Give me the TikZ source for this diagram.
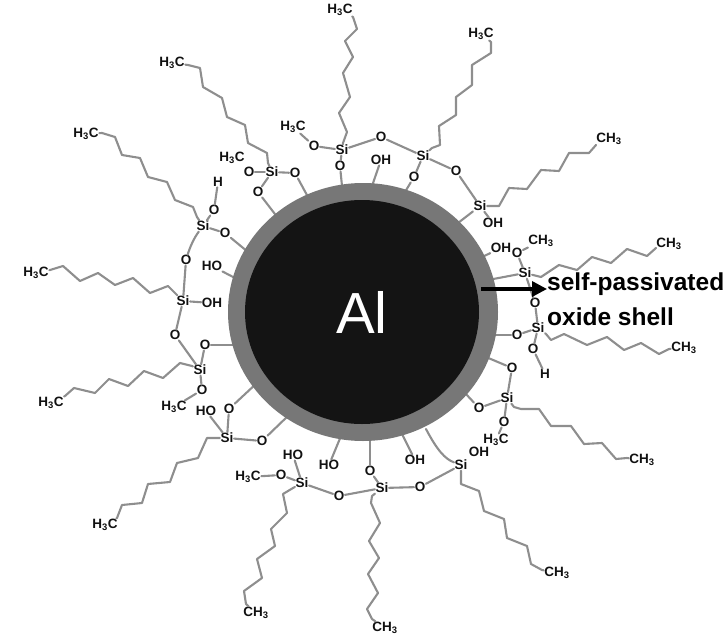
\documentclass[tikz,border=0pt]{standalone}
\usepackage{fontspec}
\setmainfont{Liberation Sans}
\usetikzlibrary{arrows.meta,shapes.geometric}
\definecolor{bondgray}{HTML}{8E8E8E}
\definecolor{shellgray}{HTML}{777777}
\definecolor{coreblack}{HTML}{141414}
\definecolor{inkblack}{HTML}{111111}
\newcommand{\Hthree}{H\textsubscript{3}C}
\newcommand{\CHthree}{CH\textsubscript{3}}
\tikzset{
  lab/.style={font=\fontsize{13.5}{14}\selectfont\bfseries,text=inkblack,inner sep=0.5pt},
  bond/.style={draw=bondgray,line width=2.1pt,line join=round,line cap=round},
  bigtext/.style={font=\fontsize{24.5}{26}\selectfont\bfseries,text=black,inner sep=0pt,anchor=west},
}
\begin{document}
\begin{tikzpicture}[x=1pt,y=-1pt]
\useasboundingbox (0,0) rectangle (728,642);
% --- labels: silicon
\node[lab] (si1) at (342,150) {Si};
\node[lab] (si2) at (423,156) {Si};
\node[lab] (si3) at (480,206) {Si};
\node[lab] (si4) at (525,273) {Si};
\node[lab] (si5) at (272,172) {Si};
\node[lab] (si6) at (203,226) {Si};
\node[lab] (si7) at (183,301) {Si};
\node[lab] (si8) at (200,370) {Si};
\node[lab] (si9) at (227,438) {Si};
\node[lab] (si10) at (302,483) {Si};
\node[lab] (si11) at (382,488) {Si};
\node[lab] (si12) at (461,465) {Si};
\node[lab] (si13) at (507,398) {Si};
\node[lab] (si14) at (538,328) {Si};
% --- labels: oxygen
\node[lab] (o1) at (314,146) {O};
\node[lab] (o2) at (340,166) {O};
\node[lab] (o3) at (381,137) {O};
\node[lab] (o4) at (414,177) {O};
\node[lab] (o5) at (456,171) {O};
\node[lab] (o6) at (517,253) {O};
\node[lab] (o7) at (535,303) {O};
\node[lab] (o8) at (517,335) {O};
\node[lab] (o9) at (533,349) {O};
\node[lab] (o10) at (512,368) {O};
\node[lab] (o11) at (479,408) {O};
\node[lab] (o12) at (504,422) {O};
\node[lab] (o13) at (420,487) {O};
\node[lab] (o14) at (370,471) {O};
\node[lab] (o15) at (339,496) {O};
\node[lab] (o16) at (281,475) {O};
\node[lab] (o17) at (262,441) {O};
\node[lab] (o18) at (229,409) {O};
\node[lab] (o19) at (202,390) {O};
\node[lab] (o20) at (205,345) {O};
\node[lab] (o21) at (175,335) {O};
\node[lab] (o22) at (186,260) {O};
\node[lab] (o23) at (225,233) {O};
\node[lab] (o24) at (214,210) {O};
\node[lab] (o25) at (258,192) {O};
\node[lab] (o26) at (249,172) {O};
\node[lab] (o27) at (295,173) {O};
% --- labels: hydroxyl and hydrogen
\node[lab] (oh1) at (381,160) {OH};
\node[lab] (oh2) at (493,223) {OH};
\node[lab] (oh3) at (501,248) {OH};
\node[lab] (oh4) at (415,460) {OH};
\node[lab] (oh5) at (479,452) {OH};
\node[lab] (oh6) at (212,303) {OH};
\node[lab] (ho1) at (212,266) {HO};
\node[lab] (ho2) at (206,411) {HO};
\node[lab] (ho3) at (293,455) {HO};
\node[lab] (ho4) at (329,465) {HO};
\node[lab] (h1) at (218,182) {H};
\node[lab] (h2) at (545,374) {H};
% --- labels: methyl
\node[lab] (ma) at (340,10) {\Hthree};
\node[lab] (mb) at (481,34) {\Hthree};
\node[lab] (mc) at (609,139) {\CHthree};
\node[lab] (md) at (669,244) {\CHthree};
\node[lab] (me) at (172,63) {\Hthree};
\node[lab] (mf) at (86,134) {\Hthree};
\node[lab] (mg) at (36,273) {\Hthree};
\node[lab] (mh) at (51,403) {\Hthree};
\node[lab] (mi) at (105,525) {\Hthree};
\node[lab] (mj) at (256,613) {\CHthree};
\node[lab] (mk) at (385,628) {\CHthree};
\node[lab] (ml) at (557,573) {\CHthree};
\node[lab] (mm) at (642,460) {\CHthree};
\node[lab] (mn) at (684,348) {\CHthree};
\node[lab] (m1) at (293,127) {\Hthree};
\node[lab] (m2) at (232,158) {\Hthree};
\node[lab] (m3) at (541,241) {\CHthree};
\node[lab] (m4) at (496,440) {\Hthree};
\node[lab] (m5) at (174,407) {\Hthree};
\node[lab] (m6) at (248,477) {\Hthree};
% --- free ends inside the shell
\coordinate (s1) at (342,186);
\coordinate (s2) at (372,186);
\coordinate (s3) at (405,192);
\coordinate (s4) at (458,223);
\coordinate (s5) at (480,258);
\coordinate (s6) at (488,280);
\coordinate (s7) at (492,335);
\coordinate (s8) at (486,357);
\coordinate (s9) at (465,393);
\coordinate (s10) at (426,429);
\coordinate (s11) at (400,430);
\coordinate (s12) at (370,436);
\coordinate (s13) at (341,436);
\coordinate (s14) at (290,414);
\coordinate (s15) at (258,382);
\coordinate (s16) at (235,345);
\coordinate (s17) at (235,278);
\coordinate (s18) at (248,252);
\coordinate (s19) at (278,218);
\coordinate (s20) at (308,197);
% --- alkyl chains
\draw[bond] (si1) -- (343,143) -- (347,132) -- (339,113) -- (350,97) -- (343,73) -- (353,57) -- (345,41) -- (357,29) -- (353,17) -- (ma);
\draw[bond] (si2) -- (432,148) -- (440,145) -- (439,126) -- (456,115) -- (456,97) -- (472,85) -- (472,65) -- (491,53) -- (491,42) -- (mb);
\draw[bond] (si3) -- (499,206) -- (509,188) -- (527,189) -- (541,170) -- (559,171) -- (569,153) -- (589,153) -- (596,145) -- (mc);
\draw[bond] (si4) -- (541,277) -- (559,265) -- (577,270) -- (592,257) -- (611,263) -- (627,249) -- (647,256) -- (656,248) -- (md);
\draw[bond] (si5) -- (268,163) -- (267,153) -- (248,143) -- (245,125) -- (227,117) -- (222,98) -- (203,87) -- (200,68) -- (188,65) -- (me);
\draw[bond] (si6) -- (197,217) -- (193,207) -- (175,200) -- (167,182) -- (148,177) -- (140,158) -- (122,155) -- (115,137) -- (102,133) -- (mf);
\draw[bond] (si7) -- (175,293) -- (168,286) -- (150,293) -- (133,278) -- (115,285) -- (98,273) -- (80,281) -- (63,266) -- (50,270) -- (mg);
\draw[bond] (si8) -- (192,366) -- (180,363) -- (163,378) -- (144,371) -- (128,386) -- (109,379) -- (95,393) -- (74,388) -- (65,396) -- (mh);
\draw[bond] (si9) -- (207,438) -- (198,458) -- (177,463) -- (170,482) -- (148,484) -- (142,503) -- (122,505) -- (117,518) -- (mi);
\draw[bond] (si10) -- (293,488) -- (283,494) -- (287,513) -- (271,529) -- (275,546) -- (257,559) -- (262,578) -- (244,591) -- (246,604) -- (mj);
\draw[bond] (si11) -- (372,496) -- (371,503) -- (380,523) -- (369,541) -- (379,558) -- (368,574) -- (378,593) -- (367,609) -- (372,619) -- (mk);
\draw[bond] (si12) -- (461,484) -- (479,491) -- (484,511) -- (504,519) -- (507,538) -- (527,546) -- (531,564) -- (542,570) -- (ml);
\draw[bond] (si13) -- (514,407) -- (521,409) -- (539,409) -- (551,426) -- (571,426) -- (584,444) -- (602,443) -- (616,459) -- (627,458) -- (mm);
\draw[bond] (si14) -- (546,334) -- (551,340) -- (564,334) -- (587,345) -- (607,337) -- (624,350) -- (641,343) -- (659,354) -- (669,349) -- (mn);
% --- siloxane bonds
\draw[bond] (m1) -- (o1);
\draw[bond] (o1) -- (si1);
\draw[bond] (si1) -- (o2);
\draw[bond] (o2) -- (s1);
\draw[bond] (si1) -- (o3);
\draw[bond] (o3) -- (si2);
\draw[bond] (oh1) -- (s2);
\draw[bond] (si2) -- (o4);
\draw[bond] (o4) -- (s3);
\draw[bond] (si2) -- (o5);
\draw[bond] (o5) -- (si3);
\draw[bond] (si3) -- (oh2);
\draw[bond] (si3) -- (s4);
\draw[bond] (oh3) -- (s5);
\draw[bond] (o6) -- (m3);
\draw[bond] (o6) -- (si4);
\draw[bond] (si4) -- (s6);
\draw[bond] (si4) -- (o7);
\draw[bond] (o7) -- (si14);
\draw[bond] (s7) -- (o8);
\draw[bond] (o8) -- (si14);
\draw[bond] (si14) -- (o9);
\draw[bond] (o9) -- (h2);
\draw[bond] (s8) -- (o10);
\draw[bond] (o10) -- (si13);
\draw[bond] (s9) -- (o11);
\draw[bond] (o11) -- (si13);
\draw[bond] (si13) -- (o12);
\draw[bond] (o12) -- (m4);
\draw[bond] (si12) .. controls (445,459) and (437,450) .. (s10);
\draw[bond] (si12) -- (o13);
\draw[bond] (o13) -- (si11);
\draw[bond] (oh4) -- (s11);
\draw[bond] (s12) -- (o14);
\draw[bond] (o14) -- (si11);
\draw[bond] (si11) -- (o15);
\draw[bond] (o15) -- (si10);
\draw[bond] (ho4) -- (s13);
\draw[bond] (ho3) -- (si10);
\draw[bond] (si10) -- (o16);
\draw[bond] (o16) -- (m6);
\draw[bond] (si9) -- (o17);
\draw[bond] (o17) -- (s14);
\draw[bond] (si9) -- (o18);
\draw[bond] (o18) -- (s15);
\draw[bond] (si9) -- (ho2);
\draw[bond] (si8) -- (o19);
\draw[bond] (o19) -- (m5);
\draw[bond] (si8) -- (o20);
\draw[bond] (o20) -- (s16);
\draw[bond] (si8) -- (o21);
\draw[bond] (o21) -- (si7);
\draw[bond] (si7) -- (oh6);
\draw[bond] (si7) -- (o22);
\draw[bond] (ho1) -- (s17);
\draw[bond] (o22) .. controls (190,247) and (194,238) .. (si6);
\draw[bond] (si6) -- (o23);
\draw[bond] (o23) -- (s18);
\draw[bond] (si6) -- (o24);
\draw[bond] (o24) -- (h1);
\draw[bond] (si5) -- (o25);
\draw[bond] (o25) -- (s19);
\draw[bond] (si5) -- (o26);
\draw[bond] (si5) -- (o27);
\draw[bond] (o27) -- (s20);
% --- particle
\node[ellipse,fill=shellgray,minimum width=270pt,minimum height=258pt,inner sep=0pt] (shell) at (363,312) {};
\node[ellipse,fill=coreblack,minimum width=234pt,minimum height=224pt,inner sep=0pt,text=white,font=\fontsize{58}{60}\selectfont] (core) at (362,312) {Al};
% --- annotation
\node[bigtext] (selfp) at (547,284) {self-passivated};
\node[bigtext] (oxide) at (547,317) {oxide shell};
\coordinate (arrowtail) at (481,289);
\draw[black,line width=3.4pt,-{Triangle[length=15pt,width=15pt]}] (arrowtail) -- (selfp.west |- arrowtail);
\end{tikzpicture}
\end{document}
